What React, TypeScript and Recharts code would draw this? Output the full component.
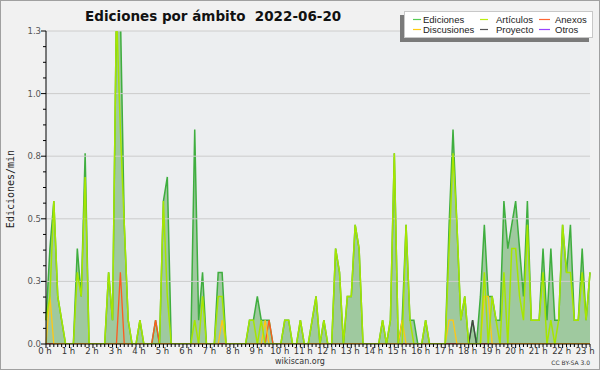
import React from 'react';
import {
  ComposedChart,
  Area,
  Line,
  XAxis,
  YAxis,
  ReferenceLine,
  ReferenceArea,
  Legend,
  Customized,
} from 'recharts';

// ---- data (edits per minute, one value per 10-minute slot, 00:00 .. 23:10) ----
const ediciones = [
  0.095, 0.381, 0.571, 0.19, 0.095, 0, 0, 0, 0.381, 0.19,
  0.762, 0, 0, 0, 0, 0, 0.286, 0.095, 1.333, 1.333,
  0.476, 0.095, 0, 0, 0.095, 0, 0, 0, 0.095, 0,
  0.571, 0.667, 0, 0, 0, 0, 0, 0, 0.857, 0.095,
  0.286, 0, 0, 0, 0.286, 0.286, 0, 0, 0, 0,
  0, 0, 0.095, 0.095, 0.19, 0.095, 0.095, 0.095, 0, 0,
  0, 0.095, 0.095, 0, 0, 0.095, 0, 0, 0.095, 0.19,
  0, 0.095, 0, 0, 0.381, 0.286, 0, 0.19, 0.19, 0.476,
  0.381, 0, 0, 0, 0, 0, 0.095, 0, 0.095, 0.762,
  0, 0.095, 0.476, 0.095, 0.095, 0, 0, 0.095, 0, 0,
  0, 0, 0, 0.476, 0.857, 0.476, 0.095, 0.19, 0, 0.095,
  0, 0.19, 0.476, 0.19, 0.19, 0.095, 0.095, 0.571, 0.381, 0.476,
  0.571, 0.381, 0.19, 0.571, 0.095, 0.095, 0.095, 0.381, 0.095, 0.381,
  0.095, 0.095, 0.476, 0.286, 0.476, 0.095, 0.095, 0.381, 0.095, 0.286,
];

const articulos = [
  0.095, 0.19, 0.571, 0.19, 0.095, 0, 0, 0, 0.286, 0.19,
  0.667, 0, 0, 0, 0, 0, 0.286, 0.095, 1.333, 0.857,
  0.476, 0.095, 0, 0, 0.095, 0, 0, 0, 0, 0,
  0.571, 0.19, 0, 0, 0, 0, 0, 0, 0.095, 0,
  0.19, 0, 0, 0, 0.19, 0.19, 0, 0, 0, 0,
  0, 0, 0.095, 0.095, 0, 0.095, 0, 0, 0, 0,
  0, 0.095, 0.095, 0, 0, 0.095, 0, 0, 0.095, 0.19,
  0, 0.095, 0, 0, 0.381, 0.286, 0, 0.19, 0.19, 0.476,
  0.381, 0, 0, 0, 0, 0, 0.095, 0, 0.095, 0.762,
  0, 0, 0.476, 0.095, 0, 0, 0, 0.095, 0, 0,
  0, 0, 0, 0.381, 0.762, 0.476, 0.095, 0.19, 0, 0,
  0, 0, 0.286, 0, 0.19, 0.095, 0, 0.286, 0, 0.381,
  0.381, 0.19, 0.095, 0.476, 0.095, 0.095, 0.095, 0.286, 0, 0.095,
  0, 0.095, 0.476, 0.286, 0.286, 0.095, 0.095, 0.286, 0.095, 0.286,
];

const discusiones = [
  0, 0.19, 0, 0, 0, 0, 0, 0, 0, 0,
  0, 0, 0, 0, 0, 0, 0, 0, 0, 0,
  0, 0, 0, 0, 0, 0, 0, 0, 0, 0,
  0, 0, 0, 0, 0, 0, 0, 0, 0, 0,
  0, 0, 0, 0, 0, 0.095, 0, 0, 0, 0,
  0, 0, 0, 0, 0, 0, 0.095, 0, 0, 0,
  0, 0, 0, 0, 0, 0, 0, 0, 0, 0,
  0, 0, 0, 0, 0, 0, 0, 0, 0, 0,
  0, 0, 0, 0, 0, 0, 0, 0, 0, 0,
  0, 0.095, 0, 0, 0, 0, 0, 0, 0, 0,
  0, 0, 0, 0.095, 0.095, 0, 0, 0, 0, 0,
  0, 0, 0.19, 0.19, 0, 0, 0, 0, 0, 0,
  0, 0, 0, 0, 0, 0, 0, 0, 0, 0,
  0, 0, 0, 0, 0, 0, 0, 0, 0, 0,
];

const anexos = [
  0, 0, 0, 0, 0, 0, 0, 0, 0, 0,
  0, 0, 0, 0, 0, 0, 0, 0, 0, 0.286,
  0, 0, 0, 0, 0, 0, 0, 0, 0.095, 0,
  0, 0, 0, 0, 0, 0, 0, 0, 0, 0,
  0, 0, 0, 0, 0, 0, 0, 0, 0, 0,
  0, 0, 0, 0, 0, 0, 0, 0.095, 0, 0,
  0, 0, 0, 0, 0, 0, 0, 0, 0, 0,
  0, 0, 0, 0, 0, 0, 0, 0, 0, 0,
  0, 0, 0, 0, 0, 0, 0, 0, 0, 0,
  0, 0, 0, 0, 0, 0, 0, 0, 0, 0,
  0, 0, 0, 0, 0, 0, 0, 0, 0, 0,
  0, 0, 0, 0, 0, 0, 0, 0, 0, 0,
  0, 0, 0, 0, 0, 0, 0, 0, 0, 0,
  0, 0, 0, 0, 0, 0, 0, 0, 0, 0,
];

const proyecto = [
  0, 0, 0, 0, 0, 0, 0, 0, 0, 0,
  0, 0, 0, 0, 0, 0, 0, 0, 0, 0,
  0, 0, 0, 0, 0, 0, 0, 0, 0, 0,
  0, 0, 0, 0, 0, 0, 0, 0, 0, 0,
  0, 0, 0, 0, 0, 0, 0, 0, 0, 0,
  0, 0, 0, 0, 0, 0, 0, 0, 0, 0,
  0, 0, 0, 0, 0, 0, 0, 0, 0, 0,
  0, 0, 0, 0, 0, 0, 0, 0, 0, 0,
  0, 0, 0, 0, 0, 0, 0, 0, 0, 0,
  0, 0, 0, 0, 0, 0, 0, 0, 0, 0,
  0, 0, 0, 0, 0, 0, 0, 0, 0, 0.095,
  0, 0, 0, 0, 0, 0, 0, 0, 0, 0,
  0, 0, 0, 0, 0, 0, 0, 0, 0, 0,
  0, 0, 0, 0, 0, 0, 0, 0, 0, 0,
];

const otros = ediciones.map(() => 0);

const hourLabels = [
  '0 h', '1 h', '2 h', '3 h', '4 h', '5 h', '6 h', '7 h', '8 h', '9 h', '10 h', '11 h',
  '12 h', '13 h', '14 h', '15 h', '16 h', '17 h', '18 h', '19 h', '20 h', '21 h', '22 h', '23 h',
];
const slotsPerHour = 6;

const yMajorTicks = [0, 0.25, 0.5, 0.75, 1, 1.25];
const yMajorLabels = ['0.0', '0.3', '0.5', '0.8', '1.0', '1.3'];

const legendItems = [
  { name: 'Ediciones', color: '#55cc55' },
  { name: 'Artículos', color: '#bbee11' },
  { name: 'Anexos', color: '#ff6633' },
  { name: 'Discusiones', color: '#ffcc11' },
  { name: 'Proyecto', color: '#555555' },
  { name: 'Otros', color: '#9944ff' },
];

// ---- chart table ----
const data = ediciones.map((v, i) => ({
  slot: i,
  ediciones: v,
  articulos: articulos[i],
  discusiones: discusiones[i],
  anexos: anexos[i],
  proyecto: proyecto[i],
  otros: otros[i],
}));

const xTicks = data.map((d) => d.slot);
const yTicks: number[] = [];
for (let k = 0; k <= 20; k++) yTicks.push(k * 0.0625);

const FONT = '"DejaVu Sans", sans-serif';

const XTick = (props: any) => {
  const { x, y, payload } = props;
  const v = payload.value as number;
  const isHour = v % slotsPerHour === 0;
  return (
    <g>
      <line x1={x} x2={x} y1={y} y2={y + (isHour ? 4 : 3)} stroke="#000" strokeWidth={1} />
      {isHour && (
        <text x={x - 1} y={y + 10} textAnchor="middle" fontSize={8.5} fontFamily={FONT} fill="#333">
          {hourLabels[v / slotsPerHour]}
        </text>
      )}
    </g>
  );
};

const YTick = (props: any) => {
  const { x, y, payload } = props;
  const k = yMajorTicks.indexOf(payload.value);
  if (k >= 0) {
    return (
      <g>
        <line x1={x - 5} x2={x} y1={y} y2={y} stroke="#000" strokeWidth={1} />
        <text x={x - 5} y={y + 3} textAnchor="end" fontSize={8.5} fontFamily={FONT} fill="#555">
          {yMajorLabels[k]}
        </text>
      </g>
    );
  }
  return <line x1={x - 3} x2={x} y1={y} y2={y} stroke="#000" strokeWidth={1} />;
};

const LegendBox = () => {
  const colX = [13, 80, 139];
  const textX = [23, 96, 155];
  const rowY = [8.5, 18.5];
  return (
    <svg width={196} height={33} style={{ overflow: 'visible' }}>
      <rect x={0} y={4} width={189} height={27} fill="#7a7a7a" />
      <rect x={4.5} y={0.5} width={188} height={26} fill="#ffffff" stroke="#c8c8c8" />
      {legendItems.map((it, n) => {
        const c = n % 3;
        const r = Math.floor(n / 3);
        return (
          <g key={it.name}>
            <line x1={colX[c]} x2={colX[c] + (c === 2 ? 11 : 8)} y1={rowY[r]} y2={rowY[r]} stroke={it.color} strokeWidth={1.2} />
            <text x={textX[c]} y={rowY[r] + 3.5} fontSize={9.5} fontFamily='"Liberation Sans", Arial, sans-serif' fill="#222">
              {it.name}
            </text>
          </g>
        );
      })}
    </svg>
  );
};

const Decorations = () => (
  <g>
    <rect x={0.5} y={0.5} width={599} height={369} fill="none" stroke="#a0a0a0" />
    <text x={85} y={21} fontSize={13.5} fontWeight="bold" fontFamily={FONT} fill="#111">
      {'Ediciones por ámbito\u00a0\u00a02022-06-20'}
    </text>
    <text
      x={14}
      y={189}
      transform="rotate(-90, 14, 189)"
      textAnchor="middle"
      fontSize={10}
      fontFamily='"DejaVu Sans Mono", monospace'
      fill="#222"
    >
      Ediciones/min
    </text>
    <text x={300} y={364} textAnchor="middle" fontSize={8} fontFamily={FONT} fill="#333">
      wikiscan.org
    </text>
    <text x={590} y={365} textAnchor="end" fontSize={6} fontFamily={FONT} fill="#333">
      CC BY-SA 3.0
    </text>
  </g>
);

export default function App() {
  return (
    <div style={{ position: 'absolute', left: 0, top: 0, width: 600, height: 370, background: '#f1f1f1' }}>
      <ComposedChart
        width={600}
        height={370}
        data={data}
        margin={{ top: 31, right: 10, bottom: 6, left: 0 }}
      >
        <ReferenceArea x1={0} x2={139} y1={0} y2={1.25} fill="#eceef0" fillOpacity={1} stroke="none" ifOverflow="hidden" />
        {yMajorTicks.slice(1).map((v) => (
          <ReferenceLine key={v} y={v} stroke="#cccccc" strokeWidth={1} />
        ))}
        <Area
          type="linear"
          dataKey="ediciones"
          name="Ediciones"
          stroke="#3fae3f"
          strokeWidth={1.5}
          fill="#9fc99f"
          fillOpacity={1}
          isAnimationActive={false}
          dot={false}
          activeDot={false}
        />
        <Line type="linear" dataKey="otros" name="Otros" stroke="#9944ff" strokeWidth={1.3} dot={false} activeDot={false} isAnimationActive={false} />
        <Line type="linear" dataKey="proyecto" name="Proyecto" stroke="#444444" strokeWidth={1.3} dot={false} activeDot={false} isAnimationActive={false} />
        <Line type="linear" dataKey="anexos" name="Anexos" stroke="#ff5a1e" strokeWidth={1.3} dot={false} activeDot={false} isAnimationActive={false} />
        <Line type="linear" dataKey="discusiones" name="Discusiones" stroke="#ffc814" strokeWidth={1.3} dot={false} activeDot={false} isAnimationActive={false} />
        <Line type="linear" dataKey="articulos" name="Artículos" stroke="#a6e600" strokeWidth={1.5} dot={false} activeDot={false} isAnimationActive={false} />
        <XAxis
          type="number"
          dataKey="slot"
          domain={[0, 139]}
          ticks={xTicks}
          interval={0}
          height={20}
          tickSize={0}
          tickMargin={0}
          tickLine={false}
          tick={<XTick />}
          axisLine={{ stroke: '#000', strokeWidth: 1 }}
          allowDecimals={false}
        />
        <YAxis
          type="number"
          domain={[0, 1.25]}
          allowDataOverflow
          ticks={yTicks}
          interval={0}
          width={46}
          tickSize={0}
          tickMargin={0}
          tickLine={false}
          tick={<YTick />}
          axisLine={{ stroke: '#000', strokeWidth: 1 }}
        />
        <Legend
          layout="horizontal"
          verticalAlign="middle"
          align="center"
          content={() => <LegendBox />}
          wrapperStyle={{ position: 'absolute', left: 400, top: 11, width: 196, height: 33 }}
        />
        <Customized component={Decorations} />
      </ComposedChart>
    </div>
  );
}
